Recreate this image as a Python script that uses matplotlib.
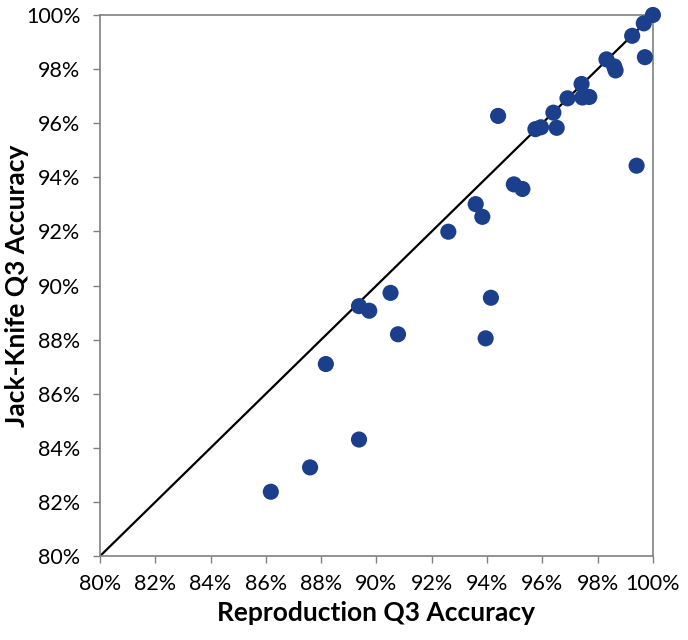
import matplotlib
matplotlib.use("Agg")
import matplotlib.pyplot as plt
from matplotlib.ticker import FuncFormatter

# Q3 accuracy (%)
repro = [100.0, 99.67, 99.25, 99.71, 98.32, 98.6, 98.65, 97.42, 97.45, 97.7,
         96.91, 96.4, 96.52, 95.75, 95.95, 94.4, 99.41, 94.97, 95.28, 93.59,
         93.83, 92.6, 94.14, 93.95, 90.51, 89.37, 89.74, 88.17, 90.78, 89.37,
         87.6, 86.18]
jack = [100.0, 99.69, 99.23, 98.44, 98.36, 98.1, 97.95, 97.45, 96.95, 96.97,
        96.92, 96.39, 95.83, 95.78, 95.85, 96.27, 94.43, 93.74, 93.57, 93.01,
        92.54, 91.99, 89.55, 88.05, 89.73, 89.24, 89.07, 87.1, 88.2, 84.31,
        83.28, 82.38]
ticks = list(range(80, 101, 2))

plt.rcParams['font.family'] = ['Lato', 'DejaVu Sans']

fig = plt.figure(figsize=(6.88, 6.4), dpi=100)
ax = fig.add_axes([0.1453, 0.131, 0.8037, 0.8456])

ax.plot([80, 100], [80, 100], color='black', lw=1.6, zorder=2)
ax.scatter(repro, jack, s=135, color='#1c3f8c', edgecolors='none', zorder=3,
           clip_on=False)

ax.set_xlim(80, 100)
ax.set_ylim(80, 100)
ax.set_xticks(ticks)
ax.set_yticks(ticks)
pct = FuncFormatter(lambda v, p: "%d%%" % v)
ax.xaxis.set_major_formatter(pct)
ax.yaxis.set_major_formatter(pct)
ax.tick_params(direction='out', length=5, width=1, color='#808080',
               labelsize=15.5, labelcolor='black')
ax.tick_params(axis='x', pad=8)
ax.tick_params(axis='y', pad=9)
for s in ax.spines.values():
    s.set_color('#808080')
    s.set_linewidth(1.2)

ax.set_xlabel('Reproduction Q3 Accuracy', fontsize=19, fontweight='bold',
              labelpad=5)
ax.set_ylabel('Jack-Knife Q3 Accuracy', fontsize=19, fontweight='bold')
ax.yaxis.set_label_coords(-0.128, 0.5)

fig.savefig('out.png', dpi=100)
